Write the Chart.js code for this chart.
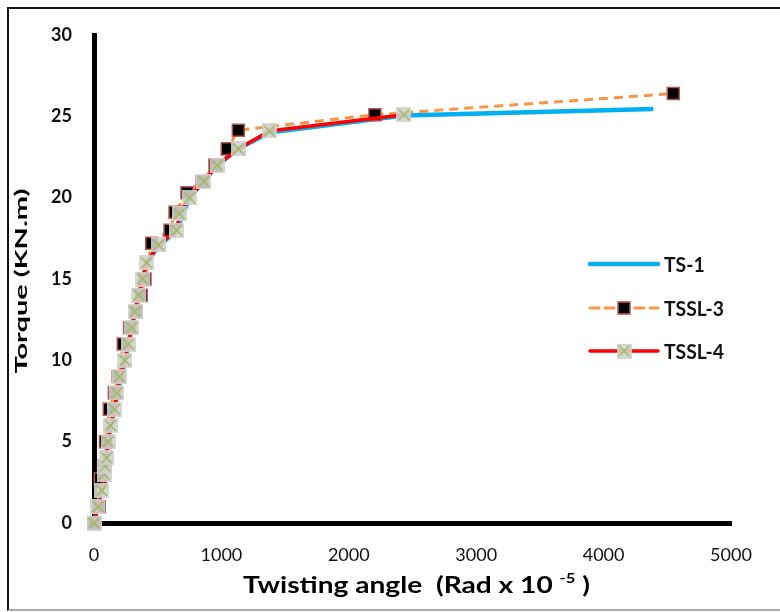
<!DOCTYPE html>
<html>
<head>
<meta charset="utf-8">
<script src="https://cdn.jsdelivr.net/npm/chart.js@4/dist/chart.umd.min.js"></script>
<style>
  body { margin: 0; background: #fff; }
  #wrap { position: relative; width: 780px; height: 612px; }
  #frame { position: absolute; left: 7px; top: 7px; width: 773px; height: 600px;
           border-top: 2px solid #111; border-left: 2px solid #111; border-bottom: 2px solid #aaa; }
  canvas { position: absolute; left: 0; top: 0; }
</style>
</head>
<body>
<div id="wrap">
  <div id="frame"></div>
  <canvas id="myChart" width="780" height="612"></canvas>
</div>
<script>
// series data
var ts1X   = [0, 60, 110, 160, 243, 322, 413, 505, 649, 749, 968, 1133, 1376, 2433, 4390];
var ts1Y   = [0, 2, 5, 7, 10, 13, 16, 17, 18, 20, 22, 23, 24, 25.05, 25.45];
var tssl3X = [0, 40, 50, 75, 90, 120, 160, 190, 230, 280, 330, 370, 400, 453, 597, 636, 730, 850, 950, 1046, 1133, 2205, 4547];
var tssl3Y = [0, 1, 2.7, 3.5, 5, 7, 8, 9, 11, 12, 13, 14, 15, 17.2, 18, 19.1, 20.3, 21, 22, 23, 24.15, 25.1, 26.4];
var tssl4X = [0, 31, 60, 80, 86, 100, 110, 130, 160, 180, 200, 243, 270, 296, 322, 350, 382, 413, 505, 649, 670, 749, 863, 968, 1133, 1376, 2433];
var tssl4Y = [0, 1, 2, 3, 3.5, 4, 5, 6, 7, 8, 9, 10, 11, 12, 13, 14, 15, 16, 17.1, 18, 19, 20, 21, 22, 23, 24.1, 25.1];
var seriesNames = ['TS-1', 'TSSL-3', 'TSSL-4'];
var xTicks = [0, 1000, 2000, 3000, 4000, 5000];
var yTicks = [0, 5, 10, 15, 20, 25, 30];

function pts(xs, ys) {
    return xs.map(function(x, i){ return {x: x, y: ys[i]}; });
}

// grey box with green cross marker
var xMark = document.createElement('canvas');
xMark.width = 15; xMark.height = 15;
var mctx = xMark.getContext('2d');
mctx.fillStyle = 'rgba(210,210,210,0.9)';
mctx.fillRect(0, 0, 15, 15);
mctx.strokeStyle = '#9BBB59';
mctx.lineWidth = 1.6;
mctx.beginPath();
mctx.moveTo(2, 2); mctx.lineTo(13, 13);
mctx.moveTo(13, 2); mctx.lineTo(2, 13);
mctx.stroke();

var FONT = "Lato, 'Open Sans', sans-serif";

var titlesAndLegend = {
    id: 'titlesAndLegend',
    afterDraw: function(chart) {
        var c = chart.ctx;

        // y title, stretched along its length like the original
        c.save();
        c.fillStyle = '#000';
        c.font = "bold 17px " + FONT;
        c.textAlign = 'center';
        c.textBaseline = 'alphabetic';
        var yt = 'Torque (KN.m)';
        var ys = 185 / c.measureText(yt).width;
        c.translate(27, 281);
        c.rotate(-Math.PI / 2);
        c.scale(ys, 1);
        c.fillText(yt, 0, 0);
        c.restore();

        // x title with superscript
        c.save();
        c.fillStyle = '#000';
        c.textBaseline = 'alphabetic';
        c.textAlign = 'left';
        var main = 'Twisting angle  (Rad x 10 ';
        var sup = '-5';
        var tail = ' )';
        c.font = "bold 22px " + FONT;
        var w1 = c.measureText(main).width;
        var w3 = c.measureText(tail).width;
        c.font = "bold 13px " + FONT;
        var w2 = c.measureText(sup).width;
        var xs = 347 / (w1 + w2 + w3);
        c.translate(243, 593);
        c.scale(xs, 1);
        c.font = "bold 22px " + FONT;
        c.fillText(main, 0, 0);
        c.font = "bold 13px " + FONT;
        c.fillText(sup, w1, -10);
        c.font = "bold 22px " + FONT;
        c.fillText(tail, w1 + w2, 0);
        c.restore();

        // legend
        var ly = [264, 308, 351];
        var lx0 = 590, lx1 = 658;
        c.save();
        c.font = "bold 21px " + FONT;
        var ls = 60 / c.measureText('TSSL-3').width;
        c.restore();
        chart.data.datasets.forEach(function(ds, i){
            c.save();
            c.strokeStyle = ds.borderColor;
            c.lineWidth = ds.borderWidth;
            c.lineCap = 'round';
            if (ds.borderDash) c.setLineDash(ds.borderDash);
            c.beginPath();
            c.moveTo(lx0, ly[i]); c.lineTo(lx1, ly[i]);
            c.stroke();
            c.setLineDash([]);
            var mx = (lx0 + lx1) / 2;
            if (ds.pointStyle === 'rect') {
                c.fillStyle = ds.pointBackgroundColor;
                c.fillRect(mx - 6, ly[i] - 6, 12, 12);
                c.strokeStyle = ds.pointBorderColor;
                c.lineWidth = 1.5;
                c.strokeRect(mx - 6, ly[i] - 6, 12, 12);
            } else if (ds.pointStyle && ds.pointStyle.getContext) {
                c.drawImage(ds.pointStyle, mx - 7.5, ly[i] - 7.5);
            }
            c.fillStyle = '#111';
            c.font = "bold 21px " + FONT;
            c.textAlign = 'left';
            c.textBaseline = 'middle';
            c.translate(664, ly[i] + 1);
            c.scale(ls, 1);
            c.fillText(ds.label, 0, 0);
            c.restore();
        });
    }
};

var ctx = document.getElementById('myChart').getContext('2d');
var myChart = new Chart(ctx, {
    type: 'line',
    data: {
        datasets: [{
            label: seriesNames[0],
            data: pts(ts1X, ts1Y),
            borderColor: '#00B0F0',
            borderWidth: 4.5,
            pointRadius: 0,
            clip: false,
            order: 2
        }, {
            label: seriesNames[1],
            data: pts(tssl3X, tssl3Y),
            borderColor: '#F79646',
            borderWidth: 3,
            borderDash: [9, 6],
            pointStyle: 'rect',
            pointRadius: 8.5,
            pointBackgroundColor: '#000',
            pointBorderColor: '#B85450',
            pointBorderWidth: 1.5,
            clip: false,
            order: 1
        }, {
            label: seriesNames[2],
            data: pts(tssl4X, tssl4Y),
            borderColor: '#FF0000',
            borderWidth: 3.5,
            pointStyle: xMark,
            clip: false,
            order: 0
        }]
    },
    options: {
        responsive: false,
        animation: false,
        layout: { padding: { left: 0, top: 35, right: 49, bottom: 0 } },
        plugins: {
            legend: { display: false },
            tooltip: { enabled: false }
        },
        scales: {
            x: {
                type: 'linear',
                min: 0, max: 5000,
                afterFit: function(s){ s.height = 89; },
                afterBuildTicks: function(s){ s.ticks = xTicks.map(function(v){ return {value: v}; }); },
                grid: { display: false, drawTicks: false },
                border: { color: '#000', width: 5 },
                ticks: {
                    color: '#111', padding: 21,
                    font: { family: FONT, size: 18 },
                    callback: function(v){ return String(v); }
                }
            },
            y: {
                type: 'linear',
                min: 0, max: 30,
                afterFit: function(s){ s.width = 94; },
                afterBuildTicks: function(s){ s.ticks = yTicks.map(function(v){ return {value: v}; }); },
                grid: { display: false, drawTicks: false },
                border: { color: '#000', width: 5 },
                ticks: { color: '#111', padding: 22, font: { family: FONT, size: 18, weight: 'bold' } }
            }
        }
    },
    plugins: [titlesAndLegend]
});
</script>
</body>
</html>
